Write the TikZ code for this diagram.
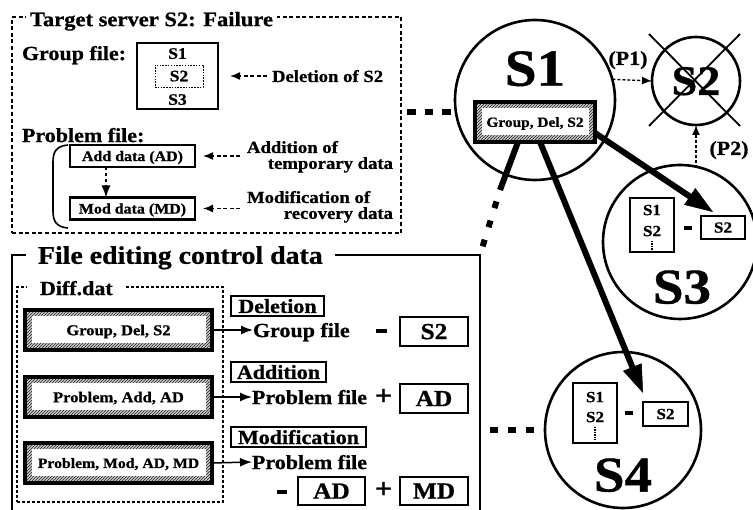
\documentclass[tikz,border=0pt]{standalone}
\usepackage{fontspec}
\setmainfont{Liberation Serif}[FakeStretch=1.1,BoldFeatures={FakeBold=0.8}]
\usetikzlibrary{arrows.meta,patterns}

\newcommand\setfs[1]{\fontsize{#1}{#1}\selectfont\bfseries}
\newcommand\plussign{\fontsize{28}{28}\selectfont\bfseries +}

\begin{document}
\begin{tikzpicture}[x=1pt,y=-1pt,
  every node/.style={inner sep=0pt,outer sep=0pt,text depth=0pt},
  dashbox/.style={draw,line width=2pt,dash pattern=on 4pt off 2.6pt},
  finebox/.style={draw,line width=1.3pt,dash pattern=on 3pt off 2pt},
  thickbox/.style={draw,line width=2.6pt,fill=white},
  labelbox/.style={draw,line width=1.1pt},
  hatchbox/.style={draw,line width=3.4pt,preaction={fill=black!22},pattern=north east lines,pattern color=black!85,
    path picture={\fill[white] ([shift={(6.5pt,-6.5pt)}]path picture bounding box.north west)
      rectangle ([shift={(-6.5pt,6.5pt)}]path picture bounding box.south east);}},
  server/.style={draw,circle,line width=2.6pt},
  dashbar/.style={fill=black,minimum width=#1,minimum height=4pt},
  pointer/.style={line width=1.5pt,dash pattern=on 4pt off 2.5pt,-{Latex[length=10pt,width=8pt]}},
  ptr/.style={line width=1.4pt,dash pattern=on 3pt off 2pt,-{Latex[length=10pt,width=8pt]}},
  feed/.style={line width=1.5pt,-{Latex[length=12pt,width=9pt]}},
  heavy/.style={line width=6pt,-{Triangle[length=28pt,width=20pt,line width=0.5pt]}},
  bigdots/.style={line width=6pt,dash pattern=on 8.5pt off 9pt},
  ellip/.style={line width=1.2pt,dash pattern=on 1.2pt off 1.3pt}]

\useasboundingbox (0,0) rectangle (753,510);
\fill[white] (0,0) rectangle (753,510);

% ---------------- failure panel
\node[dashbox,minimum width=389pt,minimum height=216pt] (topbox) at (206.5,125) {};
\node[anchor=west,fill=white,inner xsep=4.5pt,inner ysep=2pt] (toptitle) at (25.5,19) {\setfs{20.5}Target server S2: Failure};

\node[anchor=west] (grplbl) at (22,53) {\setfs{20}Group file:};
\node[thickbox,line width=2.5pt,minimum width=81pt,minimum height=66pt] (gbox) at (177.5,76) {};
\node (g1) at (177.5,53.5) {\setfs{16}S1};
\node[draw,line width=0.9pt,dash pattern=on 1.5pt off 1.3pt,minimum width=48pt,minimum height=22pt] (g2) at (179,76) {\setfs{16}S2};
\node (g3) at (177.5,99.5) {\setfs{16}S3};
\node[anchor=west] (dellbl) at (272,76) {\setfs{17}Deletion of S2};
\draw[pointer,shorten <=5pt,shorten >=12pt] (dellbl.west) -- (gbox.east);

\node[anchor=west] (problbl) at (22,135) {\setfs{20}Problem file:};
\draw[line width=1.6pt] (68,145) .. controls (56,146) and (53,152) .. (53,162) -- (53,211)
  .. controls (53,221) and (56,227) .. (68,228);
\node[thickbox,line width=2.5pt,minimum width=125pt,minimum height=22pt] (addb) at (132.5,156) {\setfs{14.5}Add data (AD)};
\node[thickbox,line width=2.5pt,minimum width=125pt,minimum height=22pt] (modb) at (132.5,208.5) {\setfs{14.5}Mod data (MD)};
\draw[line width=1.4pt,dash pattern=on 3.5pt off 2.5pt,-{Latex[length=12pt,width=9pt]}]
  ([xshift=36pt]addb.south west) -- ([xshift=36pt]modb.north west);

\node[anchor=west] (add1) at (247,147) {\setfs{17}Addition of};
\node[anchor=east] (add2) at (393,163) {\setfs{17}temporary data};
\coordinate (addtail) at (240,156);
\draw[pointer,shorten >=8pt] (addtail) -- (addb.east);
\node[anchor=west] (mod1) at (247,197) {\setfs{17}Modification of};
\node[anchor=east] (mod2) at (393,213) {\setfs{17}recovery data};
\coordinate (modtail) at (240,208.5);
\draw[pointer,shorten >=8pt] (modtail) -- (modb.east);

% ---------------- file editing control data panel
\coordinate (framecorner) at (480,255);
\draw[line width=2pt] (12,512) -- (12,255) -- (framecorner) -- (480,512);
\node[anchor=west,fill=white,inner xsep=12pt,inner ysep=2pt] (edtitle) at (26,255) {\setfs{25.3}File editing control data};

\node[finebox,minimum width=206pt,minimum height=215pt] (diffbox) at (120,394.5) {};
\node[anchor=west,fill=white,inner xsep=13pt,inner ysep=2pt] (difftitle) at (27,288) {\setfs{20}Diff.dat};

\node[hatchbox,minimum width=187pt,minimum height=40pt] (d1) at (118.5,330) {\setfs{15}Group, Del, S2};
\node[hatchbox,minimum width=187pt,minimum height=40pt] (d2) at (118.5,397) {\setfs{15}Problem, Add, AD};
\node[hatchbox,minimum width=187pt,minimum height=40pt] (d3) at (118.5,463) {\setfs{14.3}Problem, Mod, AD, MD};

\node[labelbox,minimum width=93pt,minimum height=20pt] (lb1) at (277.5,306) {\setfs{20}Deletion};
\node[anchor=west] (gf) at (253,330) {\setfs{20}Group file};
\draw[feed] (d1.east) -- (gf.west);
\node[dashbar=11pt] (m1) at (381,331) {};
\node[thickbox,line width=2.8pt,minimum width=68pt,minimum height=29pt] (r1) at (434,331.5) {\setfs{23}S2};

\node[labelbox,minimum width=95pt,minimum height=20pt] (lb2) at (278.5,372) {\setfs{20}Addition};
\node[anchor=west] (pf1) at (252,397) {\setfs{20}Problem file};
\draw[feed] (d2.east) -- (pf1.west);
\node (p1) at (383.5,397) {\plussign};
\node[thickbox,line width=2.8pt,minimum width=68pt,minimum height=29pt] (r2) at (434,398.5) {\setfs{23}AD};

\node[labelbox,minimum width=135pt,minimum height=20pt] (lb3) at (298.5,437) {\setfs{20}Modification};
\node[anchor=west] (pf2) at (252,462) {\setfs{20}Problem file};
\draw[feed] (d3.east) -- (pf2.west);
\node[dashbar=10pt] (m2) at (282,492) {};
\node[thickbox,line width=2.8pt,minimum width=67pt,minimum height=28pt] (r3) at (331.5,491) {\setfs{23}AD};
\node (p2) at (383.5,490) {\plussign};
\node[thickbox,line width=2.8pt,minimum width=68pt,minimum height=28pt] (r4) at (434,491) {\setfs{23}MD};

% ---------------- servers
\node[server,minimum size=160pt] (c1) at (535,100) {};
\node (c1name) at (535,68.5) {\setfs{52}S1};
\node[hatchbox,minimum width=120pt,minimum height=40pt] (h0) at (535,122) {\setfs{14}Group, Del, S2};

\coordinate (dotend) at (456,112);
\draw[bigdots,shorten <=6pt] (topbox.east |- dotend) -- (dotend);

\coordinate (kink) at (500,190);
\draw[line width=6pt] ([xshift=-17pt]h0.south) -- (kink);
\draw[line width=6pt,dash pattern=on 0pt off 12pt on 7pt off 1pt] (kink) -- (framecorner);

% failed server
\node[server,minimum size=88pt] (c2) at (696,81) {\setfs{42}S2};
\draw[line width=1.8pt] ([shift={(-47pt,47pt)}]c2.center) -- ([shift={(44pt,-45pt)}]c2.center);
\draw[line width=1.8pt] ([shift={(44pt,47pt)}]c2.center) -- ([shift={(-47pt,-45pt)}]c2.center);
\node (pl1) at (628,58) {\setfs{20}(P1)};
\draw[ptr] (c1.15) -- (c2.west);

% S3
\node[server,minimum size=154pt] (c3) at (680,242) {};
\node (c3name) at (682,287) {\setfs{50}S3};
\node[thickbox,line width=2.2pt,minimum width=44pt,minimum height=54pt] (s3a) at (652,225) {};
\node (s3a1) at (652,210) {\setfs{15.5}S1};
\node (s3a2) at (652,231) {\setfs{15.5}S2};
\draw[ellip] (652,241) -- (652,251);
\node[dashbar=8pt] (s3m) at (687.5,228) {};
\node[thickbox,line width=2.2pt,minimum width=44pt,minimum height=23pt] (s3b) at (723,227.5) {\setfs{15.5}S2};
\node (pl2) at (729,148) {\setfs{20}(P2)};
\draw[ptr] (c2.south |- c3.75) -- (c2.south);

% S4
\node[server,minimum size=156pt] (c4) at (623,430) {};
\node (c4name) at (623,475) {\setfs{50}S4};
\node[thickbox,line width=2.2pt,minimum width=44pt,minimum height=60pt] (s4a) at (595,413) {};
\node (s4a1) at (595,397) {\setfs{15.5}S1};
\node (s4a2) at (595,417) {\setfs{15.5}S2};
\draw[ellip] (595,427) -- (595,440);
\node[dashbar=8pt] (s4m) at (629,413) {};
\node[thickbox,line width=2.2pt,minimum width=45pt,minimum height=24pt] (s4b) at (665.5,414) {\setfs{15.5}S2};
\coordinate (s4dots) at (490,430);
\draw[line width=6pt,dash pattern=on 8pt off 10pt,shorten >=3pt] (s4dots) -- (c4.west);

% propagation of the group-file edit
\draw[heavy] ([yshift=-11pt]h0.east) -- ([xshift=12pt,yshift=4pt]s3b.north west);
\draw[heavy] ([xshift=5pt]h0.south) -- ([yshift=9pt]s4b.north west);
\end{tikzpicture}
\end{document}
